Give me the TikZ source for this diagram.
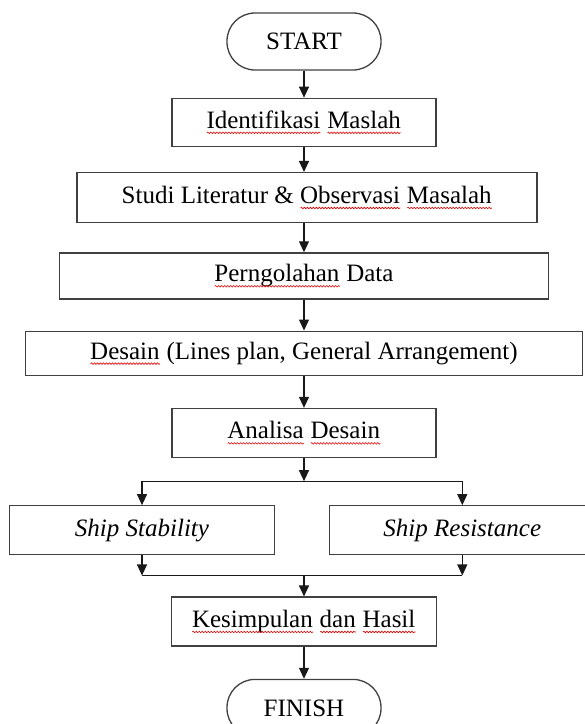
\documentclass[tikz,border=0pt]{standalone}
\usepackage{fontspec}
\setmainfont{Liberation Serif}
\usepackage{xcolor}
\usetikzlibrary{arrows.meta, positioning, calc}
\usetikzlibrary{decorations.pathmorphing}

% red spell-check wave under a word
\newlength{\sqgw}
\newcommand{\sqg}[1]{\settowidth{\sqgw}{#1}\rlap{#1}\tikz[baseline=0pt]\draw[red!90!black, line width=0.6pt, sharp corners, decorate, decoration={snake, amplitude=0.8pt, segment length=3pt}] (0,-4.5pt) -- (\sqgw,-4.5pt);}

\begin{document}
\begin{tikzpicture}[
    node distance=27pt,
    box/.style={rectangle, draw=black!75, line width=1.3pt, minimum height=48pt, text centered, inner sep=0pt, font=\fontsize{25}{30}\selectfont},
    term/.style={box, rounded corners=28pt, minimum width=154pt, minimum height=57pt},
    arrow/.style={-{Triangle[length=11pt, width=10pt]}, line width=1.2pt, black!90},
    line/.style={line width=1.2pt, black!90}
]

\useasboundingbox (-304pt,41.5pt) rectangle (281pt,-682.5pt);

% main column
\node[term] (start) at (0,0) {START};
\node[box, minimum width=264pt, below=27pt of start] (identifikasi) {\sqg{Identifikasi} \sqg{Maslah}};
\node[box, minimum width=460pt, minimum height=50pt, below=25pt of identifikasi, xshift=3pt] (studi) {Studi Literatur \& \sqg{Observasi} \sqg{Masalah}};
\node[box, minimum width=489pt, minimum height=46pt, below=29pt of studi, xshift=-3pt] (pengolahan) {\sqg{Perngolahan} Data};
\node[box, minimum width=557pt, minimum height=44pt, below=31pt of pengolahan] (desain) {\sqg{Desain} (Lines plan, General Arrangement)};
\node[box, minimum width=264pt, minimum height=49pt, below=32pt of desain] (analisa) {\sqg{Analisa} \sqg{Desain}};

% two analyses side by side
\node[box, minimum width=265pt, minimum height=49pt, below=47pt of analisa, xshift=-162pt] (stability) {\textit{Ship Stability}};
\node[box, minimum width=265pt, minimum height=49pt, right=54pt of stability] (resistance) {\textit{Ship Resistance}};

\node[box, minimum width=265pt, minimum height=49pt, below=41pt of stability.south -| analisa, anchor=north] (kesimpulan) {\sqg{Kesimpulan} \sqg{dan} \sqg{Hasil}};
\node[term, below=32pt of kesimpulan] (finish) {FINISH};

% Arrows
\draw[arrow] (start) -- (identifikasi);
\draw[arrow] (identifikasi) -- (identifikasi |- studi.north);
\draw[arrow] (studi.south -| pengolahan) -- (pengolahan);
\draw[arrow] (pengolahan) -- (desain);
\draw[arrow] (desain) -- (analisa);

% split
\coordinate (split) at ($(analisa.south)+(0,-23pt)$);
\draw[arrow] (analisa) -- (split);
\draw[line] (split -| stability) -- (split -| resistance);
\draw[arrow] (split -| stability) -- (stability);
\draw[arrow] (split -| resistance) -- (resistance);

% merge
\coordinate (merge) at ($(stability.south)+(0,-20pt)$);
\draw[arrow] (stability) -- (merge);
\draw[arrow] (resistance) -- (merge -| resistance);
\draw[line] (merge) -- (merge -| resistance);
\draw[arrow] (merge -| kesimpulan) -- (kesimpulan);
\draw[arrow] (kesimpulan) -- (finish);

\end{tikzpicture}
\end{document}
